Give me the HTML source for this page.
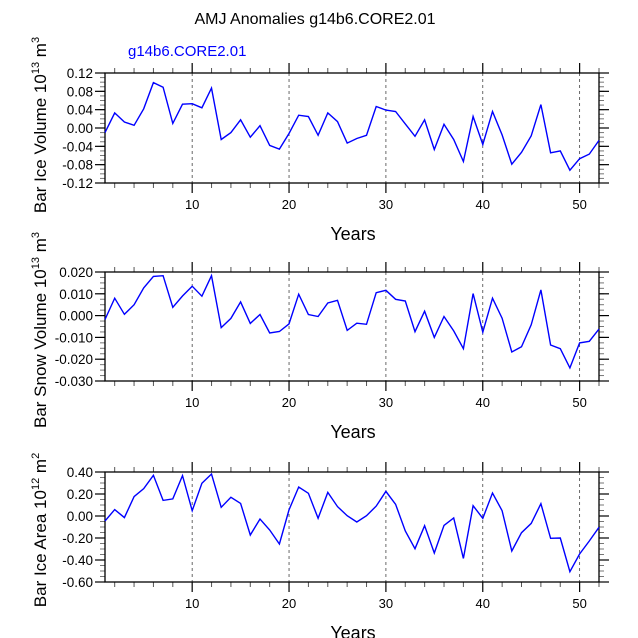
<!DOCTYPE html>
<html><head><meta charset="utf-8">
<style>
html,body{margin:0;padding:0;background:#fff;}
svg{display:block;font-family:"Liberation Sans",sans-serif;}
</style></head>
<body>
<svg id="chart" width="638" height="638" viewBox="0 0 638 638">
<text x="315" y="24" text-anchor="middle" font-size="16" fill="#000">AMJ Anomalies g14b6.CORE2.01</text>
<text x="128" y="56" font-size="15" fill="#0000ff">g14b6.CORE2.01</text>
</svg>
<script>
const years = Array.from({length:52},(_,i)=>i+1);
const iceVolume = [-0.01,0.033,0.013,0.006,0.042,0.099,0.089,0.01,0.052,0.053,0.044,0.087,-0.025,-0.01,0.018,-0.02,0.005,-0.038,-0.046,-0.012,0.028,0.025,-0.016,0.033,0.014,-0.033,-0.023,-0.016,0.047,0.039,0.036,0.009,-0.018,0.018,-0.047,0.008,-0.025,-0.073,0.025,-0.036,0.036,-0.015,-0.079,-0.053,-0.017,0.051,-0.054,-0.05,-0.092,-0.067,-0.057,-0.027];
const snowVolume = [-0.0018,0.008,0.0006,0.005,0.0127,0.018,0.0183,0.0038,0.009,0.0135,0.0089,0.0183,-0.0055,-0.0013,0.0063,-0.0036,0.0005,-0.008,-0.0073,-0.0038,0.0098,0.0005,-0.0004,0.0058,0.007,-0.0068,-0.0035,-0.004,0.0105,0.0116,0.0075,0.0067,-0.0074,0.002,-0.01,-0.0004,-0.007,-0.0152,0.0101,-0.0076,0.008,-0.0012,-0.0167,-0.0143,-0.0042,0.0118,-0.0135,-0.0152,-0.024,-0.0125,-0.0118,-0.0062];
const iceArea = [-0.045,0.058,-0.015,0.176,0.248,0.37,0.142,0.155,0.367,0.048,0.297,0.382,0.079,0.17,0.115,-0.173,-0.027,-0.127,-0.255,0.055,0.264,0.206,-0.021,0.215,0.085,0.003,-0.055,0.003,0.09,0.224,0.106,-0.136,-0.297,-0.088,-0.336,-0.085,-0.018,-0.385,0.094,-0.021,0.209,0.048,-0.318,-0.152,-0.067,0.112,-0.203,-0.2,-0.506,-0.345,-0.227,-0.103];
const xTicks = [10,20,30,40,50];
const yTicks1 = [0.12,0.08,0.04,0.00,-0.04,-0.08,-0.12];
const yLabels1 = ["0.12","0.08","0.04","0.00","-0.04","-0.08","-0.12"];
const yTicks2 = [0.02,0.01,0,-0.01,-0.02,-0.03];
const yLabels2 = ["0.020","0.010","0.000","-0.010","-0.020","-0.030"];
const yTicks3 = [0.4,0.2,0,-0.2,-0.4,-0.6];
const yLabels3 = ["0.40","0.20","0.00","-0.20","-0.40","-0.60"];

const NS="http://www.w3.org/2000/svg";
const svg=document.getElementById('chart');
function mk(tag,attrs,parent){const e=document.createElementNS(NS,tag);for(const k in attrs)e.setAttribute(k,attrs[k]);(parent||svg).appendChild(e);return e;}
const L=105,R=599;
function xs(v){return L+(v-1)/(52-1)*(R-L);}

function panel(name,top,bot,ymax,ymin,yt,yl,minorStep,data,titleMain,sup,titleY){
  const g=mk('g',{});
  
  
  const ys=v=>top+(ymax-v)/(ymax-ymin)*(bot-top);
  xTicks.forEach(t=>{
    const l=mk('line',{x1:xs(t),x2:xs(t),y1:top,y2:bot,stroke:'#444','stroke-width':0.8,'stroke-dasharray':'3,3'},g);
    
    
  });
  for(let t=2;t<=52;t+=2){ if(t%10===0) continue;
    mk('line',{x1:xs(t),x2:xs(t),y1:top,y2:top-5,stroke:'#555','stroke-width':1},g);
    mk('line',{x1:xs(t),x2:xs(t),y1:bot,y2:bot+5,stroke:'#555','stroke-width':1},g);
  }
  xTicks.forEach(t=>{
    mk('line',{x1:xs(t),x2:xs(t),y1:top,y2:top-10,stroke:'#000','stroke-width':1.2},g);
    mk('line',{x1:xs(t),x2:xs(t),y1:bot,y2:bot+10,stroke:'#000','stroke-width':1.2},g);
    const tx=mk('text',{x:xs(t),y:bot+26,'text-anchor':'middle','font-size':13},g);
    tx.textContent=t;
    
    
  });
  for(let v=ymin;v<=ymax+1e-9;v+=minorStep){
    mk('line',{x1:L,x2:L-5,y1:ys(v),y2:ys(v),stroke:'#777','stroke-width':1},g);
    mk('line',{x1:R,x2:R+5,y1:ys(v),y2:ys(v),stroke:'#777','stroke-width':1},g);
  }
  yt.forEach((v,i)=>{
    mk('line',{x1:L,x2:L-10,y1:ys(v),y2:ys(v),stroke:'#000','stroke-width':1.2},g);
    mk('line',{x1:R,x2:R+10,y1:ys(v),y2:ys(v),stroke:'#000','stroke-width':1.2},g);
    const tx=mk('text',{x:L-12,y:ys(v)+5,'text-anchor':'end','font-size':13.5},g);
    tx.textContent=yl[i];
    
    
  });
  const fr=mk('rect',{x:L,y:top,width:R-L,height:bot-top,fill:'none',stroke:'#000','stroke-width':1.3},g);
  
  
  const pts=data.map((v,i)=>xs(years[i]).toFixed(1)+','+ys(v).toFixed(1)).join(' ');
  const pl=mk('polyline',{points:pts,fill:'none',stroke:'#0000ff','stroke-width':1.4},g);
  
  
  const xt=mk('text',{x:353,y:bot+57,'text-anchor':'middle','font-size':18},g);
  xt.textContent='Years';
  
  
  const yt2=mk('text',{x:0,y:0,'text-anchor':'middle','font-size':17,transform:`translate(46,${titleY}) rotate(-90)`},g);
  
  
  yt2.appendChild(document.createTextNode(titleMain+' 10'));
  const ts=document.createElementNS(NS,'tspan');ts.setAttribute('font-size','11');ts.setAttribute('dy','-7');ts.textContent=sup;yt2.appendChild(ts);
  const t3=document.createElementNS(NS,'tspan');t3.setAttribute('dy','7');t3.textContent=' m';yt2.appendChild(t3);
  const t4=document.createElementNS(NS,'tspan');t4.setAttribute('font-size','11');t4.setAttribute('dy','-7');t4.textContent=(name==='ice-area'?'2':'3');yt2.appendChild(t4);
}
panel('ice-volume',73,183,0.12,-0.12,yTicks1,yLabels1,0.01,iceVolume,'Bar Ice Volume','13',125);
panel('snow-volume',272,381,0.02,-0.03,yTicks2,yLabels2,0.0025,snowVolume,'Bar Snow Volume','13',330);
panel('ice-area',472,582,0.4,-0.6,yTicks3,yLabels3,0.05,iceArea,'Bar Ice Area','12',530);
</script>
</body></html>
